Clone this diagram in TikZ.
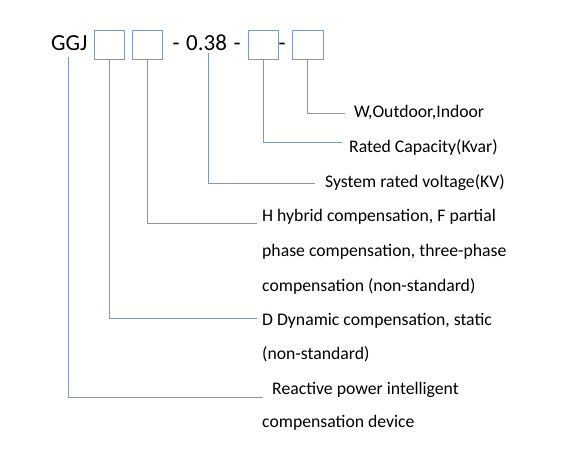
\documentclass[tikz,border=0pt]{standalone}
\usepackage{fontspec}
\setmainfont{Carlito}
\definecolor{linec}{RGB}{125,155,185}
\begin{document}
\begin{tikzpicture}[x=1pt,y=-1pt,
  codebox/.style={draw=linec,line width=0.9pt,minimum width=30pt,minimum height=29pt,inner sep=0pt},
  bigtxt/.style={font=\fontsize{23}{27}\selectfont,inner sep=0pt,anchor=base west},
  desc/.style={font=\fontsize{17.7}{20}\selectfont,inner sep=0pt,anchor=base west},
  lead/.style={draw=linec,line width=0.9pt}]
\useasboundingbox[fill=white] (0,0) rectangle (581,449);
% top code line
\node[bigtxt] (ggj) at (51,51) {GGJ};
\node[codebox] (b1) at (109,44.5) {};
\node[codebox] (b2) at (147,44.5) {};
\node[bigtxt] (volt) at (172.5,51) {-\hspace{6.5pt}0.38\hspace{6.5pt}-};
\node[codebox] (b3) at (263,44.5) {};
\node[bigtxt] (dash) at (278.5,51) {-};
\node[codebox,minimum width=31pt] (b4) at (307.5,44.5) {};
% descriptions
\node[desc] (t4) at (354,117.5) {W,Outdoor,Indoor};
\node[desc] (t3) at (349,152.5) {Rated Capacity(Kvar)};
\node[desc] (t0) at (325,187.5) {System rated voltage(KV)};
\node[desc] (t2a) at (262,221.5) {H hybrid compensation, F partial};
\node[desc] (t2b) at (262,256.5) {phase compensation, three-phase};
\node[desc] (t2c) at (262,291) {compensation (non-standard)};
\node[desc] (t1a) at (262,325.5) {D Dynamic compensation, static};
\node[desc] (t1b) at (262,359.5) {(non-standard)};
\node[desc] (tga) at (272,394) {Reactive power intelligent};
\node[desc] (tgb) at (262,427.5) {compensation device};
% leader ends
\coordinate (e4) at (345,113);
\coordinate (e3) at (342,142);
\coordinate (e0) at (315,183);
\coordinate (e2) at (257,223);
\coordinate (e1) at (257,318);
\coordinate (eg) at (263,397);
\coordinate (sg) at (68,57);
\coordinate (sv) at (208,53);
% leaders
\draw[lead] (b4.south) |- (e4);
\draw[lead] (b3.south) |- (e3);
\draw[lead] (sv) |- (e0);
\draw[lead] (b2.south) |- (e2);
\draw[lead] (b1.south) |- (e1);
\draw[lead] (sg) |- (eg);
\end{tikzpicture}
\end{document}
